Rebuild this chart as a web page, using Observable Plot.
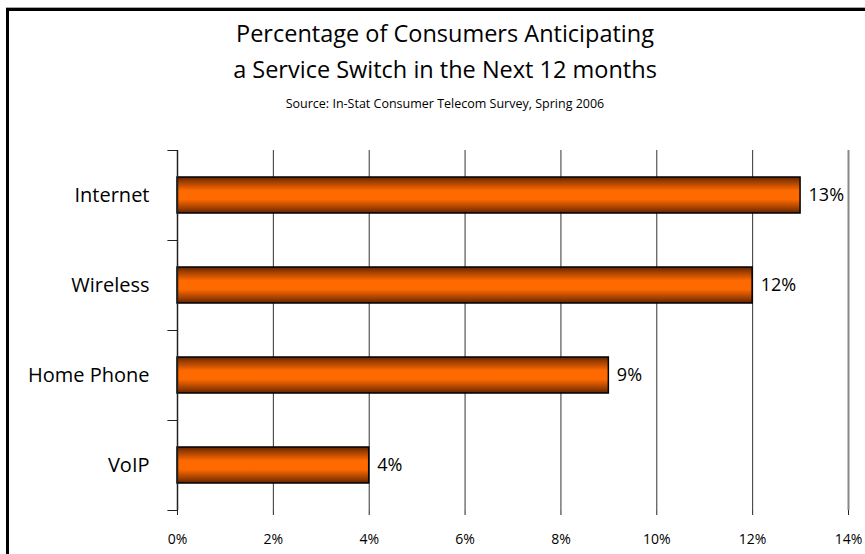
<!DOCTYPE html>
<html>
<head>
<meta charset="utf-8">
<script src="https://cdn.jsdelivr.net/npm/d3@7"></script>
<script src="https://cdn.jsdelivr.net/npm/@observablehq/plot@0.6"></script>
<style>
  html, body { margin: 0; padding: 0; background: #fff; }
  #wrap { position: relative; width: 865px; height: 554px; overflow: hidden; background: #fff; font-family: "Open Sans", sans-serif; }
  #frame { position: absolute; left: 6px; top: 8px; width: 900px; height: 600px; border-left: 3px solid #000; border-top: 3px solid #000; box-shadow: 0 -1px 0 #aaa; }
  .t { position: absolute; left: 9px; width: 872px; text-align: center; color: #000; line-height: 1; white-space: nowrap; }
  #chart { position: absolute; left: 0; top: 0; }
</style>
</head>
<body>
<div id="wrap">
  <div id="frame"></div>
  <div class="t" style="top:22px;font-size:23.5px;">Percentage of Consumers Anticipating</div>
  <div class="t" style="top:58px;font-size:23.5px;">a Service Switch in the Next 12 months</div>
  <div class="t" style="top:98px;font-size:12.5px;">Source: In-Stat Consumer Telecom Survey, Spring 2006</div>
  <div id="chart"></div>
</div>
<script>
const categories = ["Internet", "Wireless", "Home Phone", "VoIP"];
const values = [13, 12, 9, 4];
const xTicks = [0, 2, 4, 6, 8, 10, 12, 14];

const data = categories.map((c, i) => ({category: c, value: values[i]}));

const gradientDefs = () => {
  const defs = d3.create("svg:defs");
  const g = defs.append("linearGradient")
    .attr("id", "barGrad").attr("x1", 0).attr("y1", 0).attr("x2", 0).attr("y2", 1);
  [[0, "#5e2400"], [0.12, "#9a3c00"], [0.38, "#ff6a00"], [0.62, "#ff6a00"], [0.88, "#9a3c00"], [1, "#5e2400"]]
    .forEach(([o, c]) => g.append("stop").attr("offset", o).attr("stop-color", c));
  return defs.node();
};

const chart = Plot.plot({
  width: 865,
  height: 554,
  marginLeft: 177,
  marginRight: 17,
  marginTop: 150,
  marginBottom: 44,
  style: {fontFamily: "Open Sans, sans-serif", background: "transparent", color: "#000", overflow: "visible"},
  x: {domain: [0, 14], ticks: xTicks, tickFormat: d => d + "%", label: null},
  y: {domain: categories, paddingInner: 0.6, paddingOuter: 0.3, label: null},
  marks: [
    gradientDefs,
    // vertical gridlines
    Plot.ruleX(xTicks.slice(1, -1), {stroke: "#333", strokeWidth: 1}),
    Plot.ruleX([14], {stroke: "#888", strokeWidth: 2}),
    // bars
    Plot.barX(data, {x: "value", y: "category", fill: "url(#barGrad)", stroke: "#000", strokeWidth: 1.5}),
    // value labels
    Plot.text(data, {x: "value", y: "category", text: d => d.value + "%", textAnchor: "start", dx: 8, fontSize: 18}),
    // x axis line and ticks
    Plot.ruleY([0], {frameAnchor: "bottom", stroke: "#777", strokeWidth: 2}),
    Plot.axisX({ticks: xTicks, tickSize: 5, tickPadding: 19, fontSize: 14, tickFormat: d => d + "%", stroke: "#222", label: null}),
    // y axis line
    Plot.ruleX([0], {stroke: "#222", strokeWidth: 1.5}),
    // y axis labels (no ticks at centers)
    Plot.axisY({tickSize: 0, tickPadding: 28, fontSize: 20, label: null}),
    // y tick marks at band boundaries
    Plot.ruleY(categories, {y: d => d, x1: -0.2, x2: 0, dy: -45, stroke: "#222", strokeWidth: 1}),
    Plot.ruleY(categories.slice(-1), {y: d => d, x1: -0.2, x2: 0, dy: 45, stroke: "#222", strokeWidth: 1})
  ]
});
document.getElementById("chart").appendChild(chart);
</script>
</body>
</html>
